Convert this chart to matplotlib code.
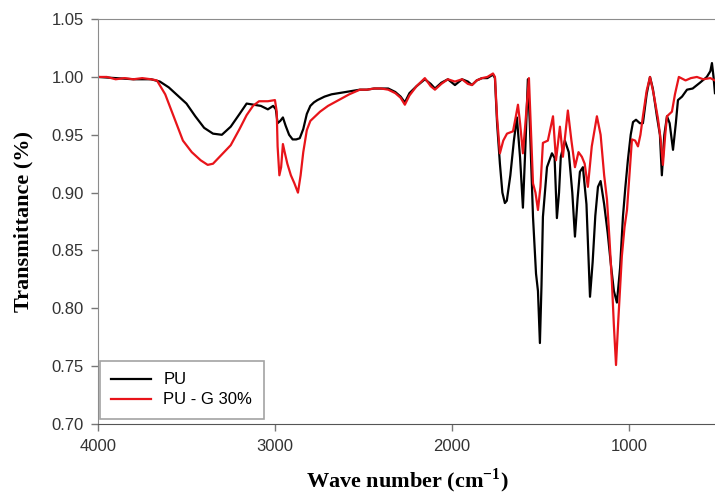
import matplotlib
matplotlib.use("Agg")
import matplotlib.pyplot as plt

# FTIR spectra, wave number (cm-1) vs transmittance
wn_pu = [4000, 3900, 3800, 3700, 3650, 3600, 3550, 3500, 3450, 3400, 3350, 3300,
         3250, 3200, 3160, 3120, 3080, 3040, 3010, 2995, 2985, 2970, 2955, 2940,
         2920, 2900, 2880, 2860, 2840, 2820, 2800, 2780, 2760, 2720, 2680, 2640,
         2600, 2560, 2520, 2480, 2440, 2400, 2360, 2320, 2290, 2266, 2240, 2200,
         2153, 2120, 2096, 2060, 2023, 1983, 1943, 1910, 1887, 1860, 1830, 1800,
         1768, 1757, 1745, 1729, 1715, 1701, 1690, 1670, 1650, 1633, 1615, 1599,
         1585, 1571, 1560, 1542, 1525, 1514, 1503, 1494, 1486, 1463, 1435, 1420,
         1407, 1395, 1385, 1362, 1340, 1320, 1305, 1290, 1277, 1260, 1240, 1220,
         1205, 1190, 1175, 1160, 1140, 1120, 1100, 1085, 1068, 1050, 1034, 1020,
         1006, 990, 977, 960, 938, 921, 900, 881, 865, 842, 825, 814,
         800, 785, 770, 751, 735, 723, 700, 672, 640, 599, 560, 540,
         531, 522, 514]
t_pu = [1.000, 0.999, 0.998, 0.998, 0.996, 0.991, 0.984, 0.977, 0.966, 0.956, 0.951, 0.950,
        0.957, 0.968, 0.977, 0.976, 0.975, 0.972, 0.975, 0.972, 0.960, 0.962, 0.965, 0.958,
        0.950, 0.946, 0.946, 0.947, 0.955, 0.968, 0.975, 0.978, 0.980, 0.983, 0.985, 0.986,
        0.987, 0.988, 0.989, 0.989, 0.990, 0.990, 0.990, 0.987, 0.983, 0.978, 0.986, 0.992,
        0.998, 0.994, 0.990, 0.995, 0.998, 0.993, 0.998, 0.996, 0.993, 0.997, 0.999, 0.999,
        1.002, 0.999, 0.960, 0.925, 0.900, 0.891, 0.893, 0.915, 0.945, 0.965, 0.930, 0.887,
        0.940, 0.998, 0.960, 0.879, 0.830, 0.815, 0.770, 0.820, 0.879, 0.922, 0.934, 0.930,
        0.878, 0.900, 0.931, 0.945, 0.935, 0.900, 0.862, 0.895, 0.918, 0.922, 0.890, 0.810,
        0.840, 0.880, 0.905, 0.910, 0.890, 0.865, 0.835, 0.815, 0.805, 0.835, 0.879, 0.905,
        0.928, 0.950, 0.961, 0.963, 0.960, 0.960, 0.985, 1.000, 0.990, 0.966, 0.950, 0.915,
        0.950, 0.966, 0.960, 0.937, 0.960, 0.980, 0.983, 0.989, 0.990, 0.995, 1.000, 1.005,
        1.012, 1.000, 0.986]

wn_pug = [4000, 3950, 3900, 3850, 3800, 3750, 3700, 3667, 3620, 3570, 3520, 3470,
          3420, 3380, 3350, 3300, 3250, 3200, 3160, 3124, 3090, 3040, 3000, 2990,
          2985, 2975, 2965, 2955, 2945, 2930, 2910, 2890, 2870, 2855, 2840, 2820,
          2800, 2745, 2700, 2640, 2580, 2520, 2480, 2440, 2400, 2360, 2320, 2290,
          2266, 2240, 2200, 2153, 2120, 2096, 2060, 2023, 1983, 1943, 1910, 1887,
          1860, 1830, 1800, 1768, 1757, 1745, 1729, 1710, 1689, 1655, 1640, 1627,
          1615, 1599, 1585, 1565, 1555, 1542, 1528, 1514, 1500, 1486, 1458, 1429,
          1412, 1390, 1373, 1345, 1325, 1305, 1285, 1266, 1250, 1232, 1210, 1181,
          1160, 1140, 1124, 1110, 1096, 1085, 1073, 1060, 1040, 1025, 1011, 995,
          983, 965, 949, 935, 921, 900, 881, 860, 836, 820, 808, 795,
          785, 757, 740, 718, 680, 650, 616, 580, 540, 514]
t_pug = [1.000, 1.000, 0.998, 0.999, 0.998, 0.999, 0.998, 0.997, 0.985, 0.965, 0.945, 0.935,
         0.928, 0.924, 0.925, 0.933, 0.941, 0.955, 0.967, 0.975, 0.979, 0.979, 0.980, 0.970,
         0.940, 0.915, 0.922, 0.942, 0.935, 0.925, 0.915, 0.908, 0.900, 0.915, 0.935, 0.954,
         0.962, 0.970, 0.975, 0.980, 0.985, 0.989, 0.989, 0.990, 0.990, 0.989, 0.986, 0.982,
         0.976, 0.984, 0.992, 0.999, 0.992, 0.989, 0.994, 0.998, 0.996, 0.998, 0.994, 0.993,
         0.997, 0.999, 1.000, 1.003, 1.000, 0.965, 0.934, 0.945, 0.951, 0.953, 0.965, 0.976,
         0.960, 0.934, 0.960, 0.999, 0.960, 0.908, 0.900, 0.885, 0.905, 0.943, 0.945, 0.966,
         0.928, 0.957, 0.931, 0.971, 0.945, 0.922, 0.935, 0.931, 0.925, 0.905, 0.940, 0.966,
         0.950, 0.915, 0.894, 0.860, 0.822, 0.785, 0.751, 0.790, 0.845, 0.870, 0.885, 0.920,
         0.946, 0.945, 0.940, 0.950, 0.966, 0.988, 1.000, 0.985, 0.964, 0.945, 0.924, 0.950,
         0.966, 0.970, 0.985, 1.000, 0.997, 0.999, 1.000, 0.998, 0.999, 0.997]

x_ticks = [4000, 3000, 2000, 1000]
y_ticks = [0.70, 0.75, 0.80, 0.85, 0.90, 0.95, 1.00, 1.05]

fig = plt.figure(figsize=(7.15, 4.95), dpi=100)
ax = fig.add_axes([0.137, 0.1434, 0.8664, 0.818])

ax.plot(wn_pu, t_pu, color="black", lw=1.6, label="PU")
ax.plot(wn_pug, t_pug, color="#e8141a", lw=1.6, label="PU - G 30%")

ax.set_xlim(4000, 500)
ax.set_ylim(0.70, 1.05)
ax.set_xticks(x_ticks)
ax.set_yticks(y_ticks)
ax.set_yticklabels([f"{v:.2f}" for v in y_ticks])

for side in ["top", "left", "right"]:
    ax.spines[side].set_color("#8c8c8c")
ax.spines["bottom"].set_color("#555555")
ax.spines["right"].set_visible(False)
ax.tick_params(direction="out", length=5, width=1, colors="#777777",
               labelcolor="#333333", labelsize=12, labelfontfamily="Liberation Sans")
ax.tick_params(axis="x", pad=6)
ax.tick_params(axis="y", pad=5)

ax.set_xlabel("Wave number (cm$^{\\mathregular{-1}}$)", family="Liberation Serif",
              fontweight="bold", fontsize=16, labelpad=9)
ax.set_ylabel("Transmittance (%)", family="Liberation Serif",
              fontweight="bold", fontsize=16, labelpad=13)

leg = ax.legend(loc="lower left", bbox_to_anchor=(0.003, 0.012), fancybox=False,
                prop={"family": "Liberation Sans", "size": 12},
                handlelength=2.4, handletextpad=0.7, borderpad=0.7,
                labelspacing=0.3, borderaxespad=0)
leg.get_frame().set_edgecolor("#8c8c8c")
leg.get_frame().set_linewidth(1.2)

fig.savefig("out.png", dpi=100)
